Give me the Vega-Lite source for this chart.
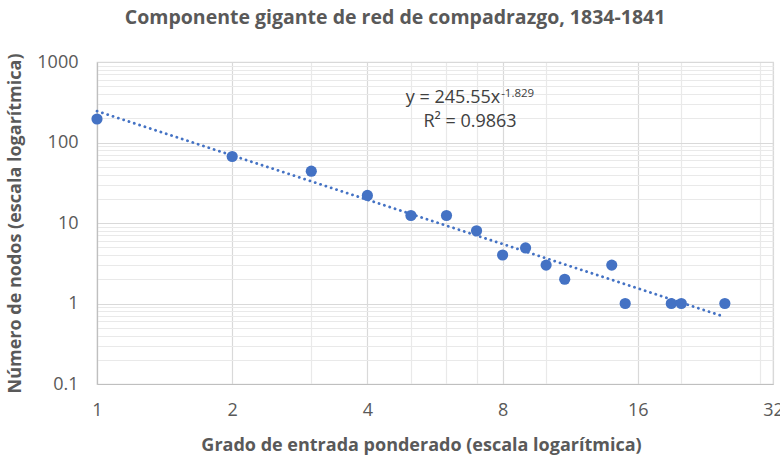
{
  "$schema": "https://vega.github.io/schema/vega-lite/v6.json",
  "width": 676,
  "height": 322,
  "autosize": {"type": "none"},
  "padding": {"left": 97, "top": 62, "right": 7, "bottom": 74},
  "background": "white",
  "config": {
    "font": "Open Sans",
    "view": {"stroke": "#d9d9d9", "strokeWidth": 1.2},
    "axis": {
      "labelFont": "Open Sans",
      "titleFont": "Open Sans",
      "labelColor": "#595959",
      "titleColor": "#595959",
      "labelFontSize": 18,
      "titleFontSize": 18,
      "titleFontWeight": "bold",
      "ticks": false,
      "domainColor": "#bfbfbf",
      "domainWidth": 1.2
    }
  },
  "title": {
    "text": "Componente gigante de red de compadrazgo, 1834-1841",
    "font": "Open Sans",
    "fontSize": 19.5,
    "fontWeight": "bold",
    "color": "#595959",
    "anchor": "middle",
    "frame": "bounds",
    "offset": 24
  },
  "encoding": {
    "x": {
      "field": "x",
      "type": "quantitative",
      "scale": {"type": "log", "base": 2, "domain": [1, 32], "nice": false},
      "axis": {
        "title": "Grado de entrada ponderado (escala logarítmica)",
        "values": [1, 2, 3, 4, 5, 6, 7, 8, 10, 16, 20, 30, 32],
        "labelExpr": "indexof([1,2,4,8,16,32], datum.value) >= 0 ? datum.value + '' : ''",
        "labelPadding": 17,
        "titlePadding": 17,
        "titleX": 324,
        "titleAnchor": "start",
        "titleAlign": "center",
        "gridColor": {"condition": {"test": "indexof([1,2,4,8,16,32], datum.value) >= 0", "value": "#d9d9d9"}, "value": "#e9e9e9"},
        "gridWidth": 1.2,
        "labelFlush": false
      }
    },
    "y": {
      "field": "y",
      "type": "quantitative",
      "scale": {"type": "log", "domain": [0.1, 1000], "nice": false},
      "axis": {
        "title": "Número de nodos (escala logarítmica)",
        "values": [0.1, 0.2, 0.3, 0.4, 0.5, 0.6, 0.7, 0.8, 0.9, 1, 2, 3, 4, 5, 6, 7, 8, 9, 10, 20, 30, 40, 50, 60, 70, 80, 90, 100, 200, 300, 400, 500, 600, 700, 800, 900, 1000],
        "labelExpr": "indexof([0.1,1,10,100,1000], datum.value) >= 0 ? datum.value + '' : ''",
        "labelPadding": 19,
        "titlePadding": 12,
        "gridColor": {"condition": {"test": "indexof([0.1,1,10,100,1000], datum.value) >= 0", "value": "#d9d9d9"}, "value": "#e9e9e9"},
        "gridWidth": 1.2,
        "labelFlush": false
      }
    }
  },
  "layer": [
    {
      "data": {"values": [
        {"x": 1, "y": 245.55},
        {"x": 25, "y": 0.682}
      ]},
      "mark": {"type": "line", "color": "#4472c4", "strokeWidth": 2.8, "strokeDash": [0.1, 5.5], "strokeCap": "round"}
    },
    {
      "data": {"values": [
        {"x": 1, "y": 196},
        {"x": 2, "y": 67},
        {"x": 3, "y": 44},
        {"x": 4, "y": 22},
        {"x": 5, "y": 12.4},
        {"x": 6, "y": 12.4},
        {"x": 7, "y": 8},
        {"x": 8, "y": 4},
        {"x": 9, "y": 4.9},
        {"x": 10, "y": 3},
        {"x": 11, "y": 2},
        {"x": 14, "y": 3},
        {"x": 15, "y": 1},
        {"x": 19, "y": 1},
        {"x": 20, "y": 1},
        {"x": 25, "y": 1}
      ]},
      "mark": {"type": "point", "filled": true, "opacity": 1, "size": 125, "color": "#4472c4"}
    },
    {
      "data": {"values": [{"x": 7.9, "y": 313, "t": "y = 245.55x"}]},
      "mark": {"type": "text", "align": "right", "baseline": "alphabetic", "fontSize": 18, "color": "#404040", "font": "Open Sans"},
      "encoding": {"text": {"field": "t"}}
    },
    {
      "data": {"values": [{"x": 7.9, "y": 313, "t": "-1.829"}]},
      "mark": {"type": "text", "align": "left", "baseline": "alphabetic", "fontSize": 11.5, "dx": 1, "dy": -6, "color": "#404040", "font": "Open Sans"},
      "encoding": {"text": {"field": "t"}}
    },
    {
      "data": {"values": [{"x": 6.77, "y": 155, "t": "R² = 0.9863"}]},
      "mark": {"type": "text", "align": "center", "baseline": "alphabetic", "fontSize": 18, "color": "#404040", "font": "Open Sans"},
      "encoding": {"text": {"field": "t"}}
    }
  ]
}
